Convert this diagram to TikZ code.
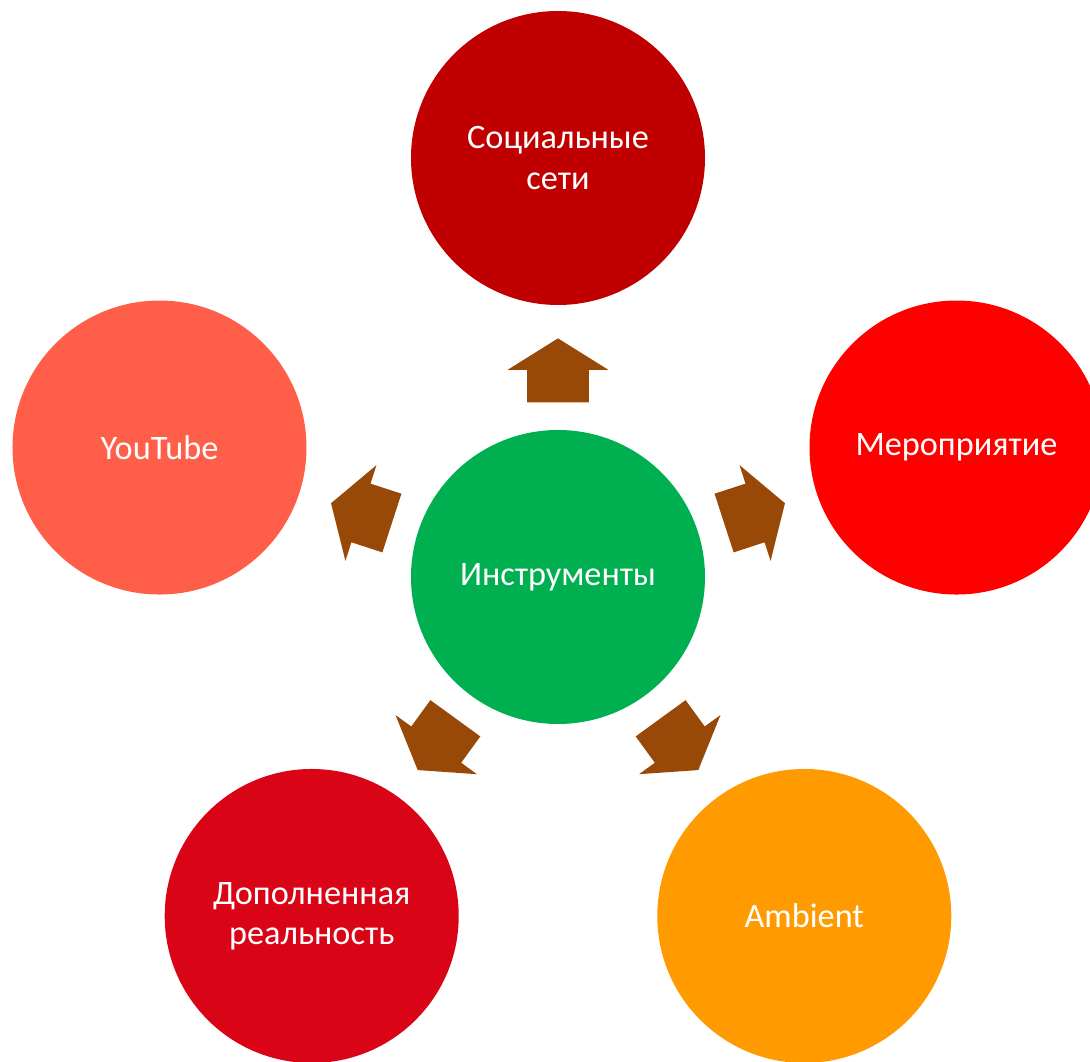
\documentclass[tikz,border=0pt]{standalone}
\usepackage{fontspec}
\setmainfont{Carlito}
\usepackage{tikz}
\usetikzlibrary{shapes.arrows, positioning}
\definecolor{HubGreen}{RGB}{0,176,80}
\definecolor{SocialRed}{RGB}{192,0,0}
\definecolor{EventRed}{RGB}{255,0,0}
\definecolor{TubeCoral}{RGB}{255,95,73}
\definecolor{ARRed}{RGB}{217,4,22}
\definecolor{AmbientOrange}{RGB}{255,154,0}
\definecolor{ArrowBrown}{RGB}{152,72,7}
\tikzstyle{bubble} = [circle, minimum size=5.88cm, inner sep=0pt, text=white, align=center, font=\fontsize{19.5}{22.8}\selectfont]
\tikzstyle{blockarrow} = [single arrow, fill=ArrowBrown, inner xsep=0pt, inner ysep=0.61cm, minimum height=1.28cm, single arrow head extend=0.39cm, single arrow tip angle=116]

\begin{document}
\begin{tikzpicture}
    \useasboundingbox (-11.16,-9.68) rectangle (10.64,11.54);
    % centre
    \node[bubble, fill=HubGreen] (hub) at (0,0) {Инструменты};
    % outer circles
    \node[bubble, fill=SocialRed] (social) at (90:8.38) {Социальные\\сети};
    \node[bubble, fill=EventRed] (event) at (18:8.38) {Мероприятие};
    \node[bubble, fill=AmbientOrange] (ambient) at (-54:8.38) {Ambient};
    \node[bubble, fill=ARRed] (augmented) at (-126:8.38) {Дополненная\\реальность};
    \node[bubble, fill=TubeCoral] (youtube) at (162:8.38) {YouTube};
    % arrows
    \foreach \ang/\name in {90/toSocial, 18/toEvent, -54/toAmbient, -126/toAugmented, 162/toYoutube}
        \node[blockarrow, rotate=\ang] (\name) at (\ang:3.94) {};
\end{tikzpicture}
\end{document}
